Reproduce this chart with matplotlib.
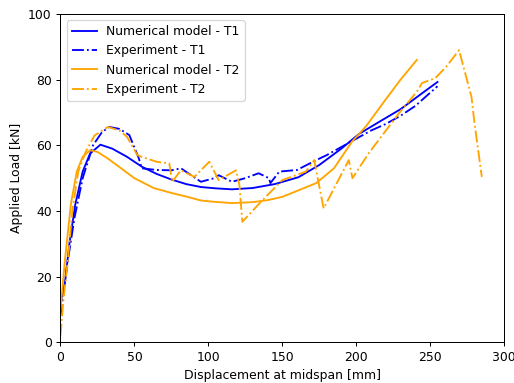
import matplotlib
matplotlib.use("Agg")
import matplotlib.pyplot as plt

# Numerical model - T1
num1_x = [0, 3, 6, 10, 15, 20, 27, 35, 45, 55, 65, 75, 85, 95, 105, 116, 130, 145, 161, 175, 190, 202, 215, 230, 245, 255]
num1_y = [12, 18, 30, 42, 52, 57.5, 60.2, 59, 56.5, 53.5, 51.3, 49.6, 48.2, 47.3, 46.9, 46.6, 47.0, 48.2, 50.3, 54, 59, 63.5, 67, 71, 76, 79.3]

# Experiment - T1
exp1_x = [0, 1.5, 5, 9.5, 15, 22, 28, 33, 40, 46.6, 53, 55, 65, 75, 81.5, 88, 95, 104, 107, 116, 125, 134, 141, 142, 148, 160, 173, 180, 190, 200, 210, 220, 230, 240, 250, 255]
exp1_y = [8, 13.8, 25, 38, 50, 60, 64, 65.6, 65, 63.1, 56, 53, 52.5, 52.4, 53, 51, 48.9, 50, 50.9, 48.9, 50, 51.5, 50, 48.5, 52, 52.5, 55.5, 57, 59.5, 62, 64.5, 66.5, 69, 72, 76, 78]

# Numerical model - T2
num2_x = [0, 3, 7, 11, 15, 20, 25, 32, 41, 50, 63, 75, 86, 95, 104, 116, 130, 140, 150, 161, 173, 185, 197, 207, 220, 230, 241]
num2_y = [10, 25, 42, 52, 56.5, 58.5, 58, 56, 53, 50, 47, 45.5, 44.3, 43.2, 42.8, 42.4, 42.7, 43.3, 44.3, 46.3, 48.5, 53, 61, 66, 74, 80, 86]

# Experiment - T2
exp2_x = [0, 2, 5, 8, 12, 17, 23, 32, 40, 45, 52, 55, 65, 73.6, 75.5, 81.5, 90.5, 100.7, 107, 118.7, 121, 123, 136, 150, 166, 171.6, 178, 195, 197.5, 208.5, 229, 241, 244.6, 253.6, 261, 269.6, 278, 280, 285]
exp2_y = [2, 13, 25, 40, 52, 58, 63, 65.6, 64.5, 62.6, 57, 56.5, 55, 54.5, 48.9, 52.4, 50.4, 55, 49.4, 52.4, 48, 36.7, 43, 49.4, 52, 55.5, 40.8, 55.5, 50, 57.6, 69.8, 76.3, 79, 80.5, 84, 89, 74.8, 67, 50.4]

# reference looks like a scaled-down default figure, so use a lower dpi
dpi = 89.5
fig = plt.figure(figsize=(514 / dpi, 383 / dpi), dpi=dpi)
ax = fig.add_axes([0.1177, 0.1063, 0.8628, 0.857])

ax.plot(num1_x, num1_y, color='blue', label='Numerical model - T1')
ax.plot(exp1_x, exp1_y, color='blue', linestyle='-.', label='Experiment - T1')
ax.plot(num2_x, num2_y, color='orange', label='Numerical model - T2')
ax.plot(exp2_x, exp2_y, color='orange', linestyle='-.', label='Experiment - T2')

ax.set_xlim(0, 300)
ax.set_ylim(0, 100)
ax.set_xlabel('Displacement at midspan [mm]')
ax.set_ylabel('Applied Load [kN]')
ax.legend(loc='upper left')

fig.savefig('out.png', dpi=dpi)
